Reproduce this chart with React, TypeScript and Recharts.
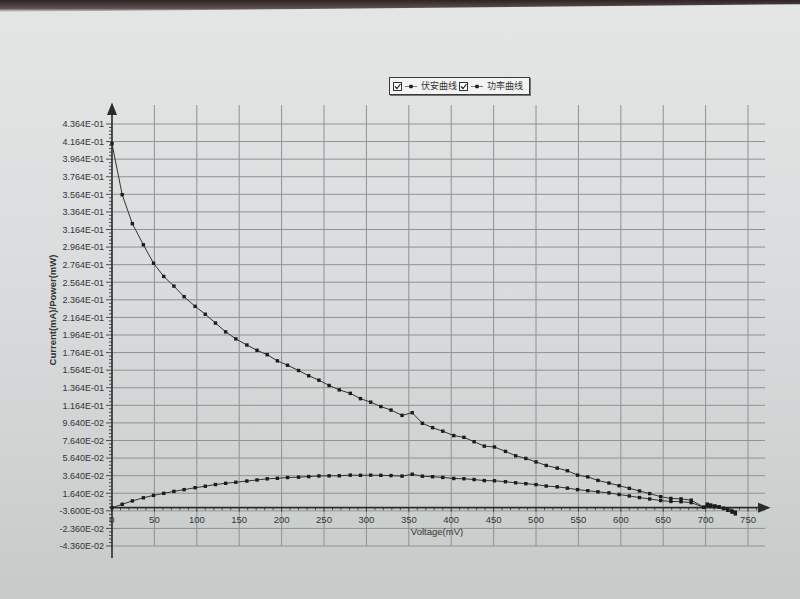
import React from 'react';
import { LineChart, Line, XAxis, YAxis, CartesianGrid, ReferenceLine } from 'recharts';

// measured points, voltage in mV
const voltage = [
  0, 12, 24, 37, 49, 61, 73, 85, 98, 110,
  122, 134, 146, 159, 171, 183, 195, 207, 220, 232,
  244, 256, 268, 281, 293, 305, 317, 329, 342, 354,
  366, 378, 390, 403, 415, 427, 439, 451, 464, 476,
  488, 500, 512, 525, 537, 549, 561, 573, 586, 598,
  610, 622, 634, 647, 659, 671, 683,
  698, 702, 706, 711, 716, 721, 726, 731, 735,
];

// current in mA (伏安曲线)
const current = [
  0.414, 0.356, 0.323, 0.299, 0.278, 0.263, 0.252, 0.240, 0.229, 0.220,
  0.210, 0.200, 0.192, 0.185, 0.179, 0.174, 0.167, 0.162, 0.156, 0.150,
  0.145, 0.139, 0.134, 0.130, 0.124, 0.120, 0.115, 0.111, 0.105, 0.108,
  0.096, 0.091, 0.087, 0.082, 0.080, 0.075, 0.070, 0.069, 0.064, 0.059,
  0.056, 0.052, 0.048, 0.045, 0.042, 0.037, 0.035, 0.031, 0.028, 0.025,
  0.022, 0.019, 0.016, 0.0125, 0.0105, 0.010, 0.0085,
  0.0005, 0.004, 0.003, 0.002, 0.001, -0.001, -0.003, -0.005, -0.007,
];

// power in mW (功率曲线)
const power = [
  0, 0.0038, 0.0077, 0.0112, 0.0140, 0.0163, 0.0185, 0.0205, 0.0227, 0.0244,
  0.0263, 0.0277, 0.0289, 0.0303, 0.0315, 0.0328, 0.0334, 0.0343, 0.0347, 0.0354,
  0.0361, 0.0362, 0.0363, 0.0370, 0.0368, 0.0370, 0.0368, 0.0365, 0.0359, 0.0380,
  0.0358, 0.0352, 0.0344, 0.0332, 0.0329, 0.0320, 0.0308, 0.0306, 0.0295, 0.0283,
  0.0273, 0.0262, 0.0246, 0.0237, 0.0222, 0.0205, 0.0193, 0.0180, 0.0168, 0.0150,
  0.0133, 0.0115, 0.0099, 0.0081, 0.0071, 0.0068, 0.0057,
  0.0003, 0.0028, 0.0021, 0.0014, 0.0007, -0.0007, -0.0022, -0.0037, -0.0051,
];

const seriesNames = ['伏安曲线', '功率曲线'];

const yMajorTicks = [
  -0.0436, -0.0236, -0.0036, 0.0164, 0.0364, 0.0564, 0.0764, 0.0964, 0.1164,
  0.1364, 0.1564, 0.1764, 0.1964, 0.2164, 0.2364, 0.2564, 0.2764, 0.2964,
  0.3164, 0.3364, 0.3564, 0.3764, 0.3964, 0.4164, 0.4364,
];
const xMajorTicks = [0, 50, 100, 150, 200, 250, 300, 350, 400, 450, 500, 550, 600, 650, 700, 750];

// small ruler ticks between the labelled ones
const yMinorTicks = yMajorTicks.flatMap((t, i) =>
  i === yMajorTicks.length - 1 ? [t] : [0, 1, 2, 3, 4].map(j => +(t + j * 0.004).toFixed(4))
);
const xMinorTicks = xMajorTicks.flatMap(t => [0, 10, 20, 30, 40].map(d => t + d)).filter(t => t <= 770);

const data = voltage.map((v, i) => ({ v, current: current[i], power: power[i] }));

// layout
const CHART_W = 800;
const CHART_H = 599;
const MARGIN = { top: 105, right: 35, bottom: 0, left: 0 };
const Y_AXIS_W = 112;
const X_AXIS_H = 53;
const X_DOMAIN: [number, number] = [0, 770];
const Y_DOMAIN: [number, number] = [-0.0436, 0.458];
const PLOT_H = CHART_H - MARGIN.top - MARGIN.bottom - X_AXIS_H;
const ZERO_Y = MARGIN.top + (Y_DOMAIN[1] / (Y_DOMAIN[1] - Y_DOMAIN[0])) * PLOT_H;
const AXIS_X = MARGIN.left + Y_AXIS_W;

const INK = '#2b2b2b';
const FONT = '"Liberation Sans", Arial, sans-serif';

const fmtSci = (v: number) => {
  const [m, e] = v.toExponential(3).toUpperCase().split('E');
  const n = parseInt(e, 10);
  return `${m}E${n < 0 ? '-' : '+'}${String(Math.abs(n)).padStart(2, '0')}`;
};

const isMajorY = (v: number) => yMajorTicks.some(t => Math.abs(t - v) < 1e-6);

const YTick = (props: any) => {
  const { y, payload } = props;
  const major = isMajorY(payload.value);
  return (
    <g>
      <line x1={AXIS_X - (major ? 6 : 3)} x2={AXIS_X} y1={y} y2={y} stroke={INK} strokeWidth={0.8} />
      {major && (
        <text x={AXIS_X - 8} y={y} dy={3.3} textAnchor="end" fontSize={9} fontFamily={FONT} fill="#333">
          {fmtSci(payload.value)}
        </text>
      )}
    </g>
  );
};

const XTick = (props: any) => {
  const { x, payload } = props;
  const major = payload.value % 50 === 0;
  return (
    <g>
      <line x1={x} x2={x} y1={ZERO_Y} y2={ZERO_Y + (major ? 4 : 2.5)} stroke={INK} strokeWidth={0.8} />
      {major && (
        <text x={x} y={ZERO_Y + 15} textAnchor="middle" fontSize={9.5} fontFamily={FONT} fill="#333">
          {payload.value}
        </text>
      )}
    </g>
  );
};

const YTitle = () => (
  <text
    x={52}
    y={310}
    transform="rotate(-90 52 310)"
    textAnchor="middle"
    dominantBaseline="central"
    fontSize={9.5}
    fontWeight="bold"
    fontFamily={FONT}
    fill="#333"
  >
    Current(mA)/Power(mW)
  </text>
);

const XTitle = () => (
  <text x={437} y={ZERO_Y + 27} textAnchor="middle" fontSize={9.5} fontFamily={FONT} fill="#333">
    Voltage(mV)
  </text>
);

const SquareDot = (props: any) => {
  const { cx, cy, index } = props;
  if (cx == null || cy == null) return <g key={index} />;
  return <rect key={index} x={cx - 1.7} y={cy - 1.7} width={3.4} height={3.4} fill="#1b1b1b" />;
};

// axis line with an arrow head at its far end
const ArrowLine = (dir: 'up' | 'right') => (p: any) => {
  const id = `arrow-${dir}`;
  const x1 = Math.min(p.x1, p.x2);
  const x2 = Math.max(p.x1, p.x2);
  const yTop = Math.min(p.y1, p.y2);
  const yBot = Math.max(p.y1, p.y2);
  return (
    <g>
      <defs>
        <marker id={id} viewBox="0 0 10 10" refX="8" refY="5" markerWidth="8" markerHeight="8" orient="auto">
          <path d="M0,1 L10,5 L0,9 z" fill={INK} />
        </marker>
      </defs>
      {dir === 'up' ? (
        <line x1={x1} x2={x1} y1={yBot + 12} y2={yTop} stroke={INK} strokeWidth={1.6} markerEnd={`url(#${id})`} />
      ) : (
        <line x1={x1} x2={x2 + 3} y1={yTop} y2={yTop} stroke={INK} strokeWidth={1.6} markerEnd={`url(#${id})`} />
      )}
    </g>
  );
};

const CheckBox = () => (
  <svg width={9} height={9} style={{ marginRight: 3 }}>
    <rect x={0.5} y={0.5} width={8} height={8} fill="#fff" stroke="#333" />
    <path d="M2,4.5 L4,6.5 L7.5,2" fill="none" stroke="#222" strokeWidth={1.2} />
  </svg>
);

const MarkerIcon = () => (
  <svg width={12} height={9} style={{ marginRight: 4 }}>
    <line x1={0} x2={12} y1={4.5} y2={4.5} stroke="#555" strokeWidth={0.8} />
    <rect x={4.3} y={2.8} width={3.4} height={3.4} fill="#1b1b1b" />
  </svg>
);

const ChartLegend = () => (
  <div
    style={{
      position: 'absolute',
      left: 389,
      top: 77,
      display: 'flex',
      alignItems: 'center',
      padding: '2px 4px 2px 3px',
      border: '1px solid #3a3a3a',
      boxShadow: '1px 1px 0 #777',
      background: '#f3f4f4',
      fontFamily: '"Noto Sans CJK SC", sans-serif',
      fontSize: 9,
      color: '#333',
      lineHeight: '12px',
    }}
  >
    {seriesNames.map(name => (
      <span key={name} style={{ display: 'flex', alignItems: 'center' }}>
        <CheckBox />
        <MarkerIcon />
        <span style={{ marginRight: 2 }}>{name}</span>
      </span>
    ))}
  </div>
);

export default function App() {
  return (
    <div
      style={{
        position: 'absolute',
        left: 0,
        top: 0,
        width: CHART_W,
        height: CHART_H,
        overflow: 'hidden',
        background: 'linear-gradient(to bottom, #e4e6e6 0%, #dadddd 45%, #c6cbca 100%)',
      }}
    >
      <div
        style={{
          position: 'absolute',
          left: 0,
          top: 0,
          width: CHART_W,
          height: 12,
          background: 'linear-gradient(to bottom, #2e2424, #5e5050 70%, rgba(120,110,110,0))',
          clipPath: 'polygon(0 0, 100% 0, 100% 35%, 0 100%)',
        }}
      />
      <LineChart width={CHART_W} height={CHART_H} data={data} margin={MARGIN}>
        <CartesianGrid
          horizontalValues={yMajorTicks}
          verticalValues={xMajorTicks.slice(1)}
          stroke="#8e9292"
          strokeWidth={1}
        />
        <XAxis
          type="number"
          dataKey="v"
          domain={X_DOMAIN}
          ticks={xMinorTicks}
          interval={0}
          height={X_AXIS_H}
          axisLine={false}
          tickLine={false}
          tick={<XTick />}
          label={<XTitle />}
        />
        <YAxis
          type="number"
          domain={Y_DOMAIN}
          ticks={yMinorTicks}
          interval={0}
          width={Y_AXIS_W}
          axisLine={false}
          tickLine={false}
          tick={<YTick />}
          label={<YTitle />}
        />
        <ReferenceLine x={0} shape={ArrowLine('up')} />
        <ReferenceLine y={0} shape={ArrowLine('right')} />
        <Line
          type="linear"
          dataKey="current"
          name={seriesNames[0]}
          stroke="#333"
          strokeWidth={1}
          dot={SquareDot}
          isAnimationActive={false}
        />
        <Line
          type="linear"
          dataKey="power"
          name={seriesNames[1]}
          stroke="#333"
          strokeWidth={1}
          dot={SquareDot}
          isAnimationActive={false}
        />
      </LineChart>
      <ChartLegend />
    </div>
  );
}
